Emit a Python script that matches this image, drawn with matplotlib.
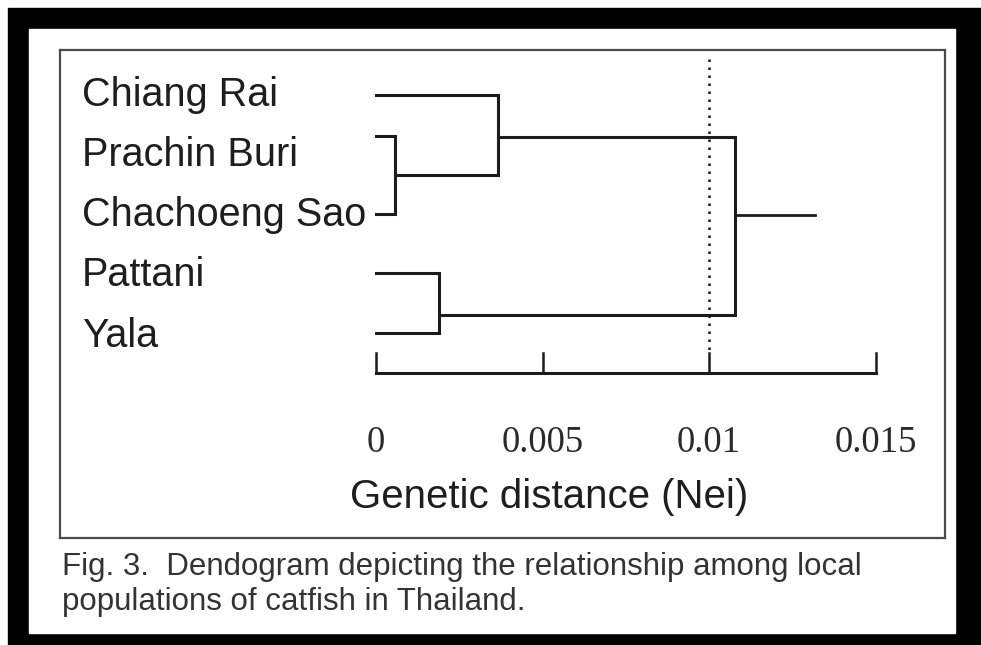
import numpy as np
import matplotlib
matplotlib.use('Agg')
import matplotlib.pyplot as plt
from matplotlib.patches import Rectangle

# ---- data
populations = ['Chiang Rai', 'Prachin Buri', 'Chachoeng Sao', 'Pattani', 'Yala']
label_row = [0, 1, 2, 3, 4]
leaf_y = [0.05, 0.73, 2.02, 3.0, 4.0]          # where each leaf branch is drawn
# merges: child a, child b, Nei distance of the join, height of the outgoing branch
merge_a = [1, 0, 3, 6]
merge_b = [2, 5, 4, 7]
merge_dist = [0.00057, 0.00366, 0.00189, 0.01078]
merge_y = [1.38, 0.75, 3.70, 2.04]
root_end = 0.01318
cut_dist = 0.01
scale_ticks = [0, 0.005, 0.01, 0.015]
scale_labels = ['0', '0.005', '0.01', '0.015']
caption = ['Fig. 3.  Dendogram depicting the relationship among local',
           'populations of catfish in Thailand.']

W, H = 981., 645.
fig = plt.figure(figsize=(W/100, H/100), dpi=100, facecolor='white')

# scanned-page frame
fig.patches.append(Rectangle((8/W, 0), 1, 637/H, transform=fig.transFigure, color='black', zorder=-3))
fig.patches.append(Rectangle((29/W, 12/H), 926/W, 604/H, transform=fig.transFigure, color='white', zorder=-2))

ax = fig.add_axes([60/W, 1-538/H, 885/W, 488/H], zorder=2)
ax.set_xlim(-0.00949, 0.017087)
ax.set_ylim(7.402, -0.697)
ax.set_xticks([]); ax.set_yticks([])
for s in ax.spines.values():
	s.set_color('#4a4a4a'); s.set_linewidth(1.6)

lc = '#1c1c1c'
node_d = [0.]*len(populations)
node_y = list(leaf_y)
for a, b, d, y in zip(merge_a, merge_b, merge_dist, merge_y):
	ax.plot([node_d[a], d, d, node_d[b]], [node_y[a], node_y[a], node_y[b], node_y[b]],
	        color=lc, lw=2.2, solid_joinstyle='miter')
	node_d.append(d); node_y.append(y)
ax.plot([node_d[-1], root_end], [node_y[-1]]*2, color=lc, lw=2.0)

# scale bar
bar_y, tick_top = 4.664, 4.332
ax.plot([scale_ticks[0], scale_ticks[-1]], [bar_y, bar_y], color=lc, lw=2.2)
for t in scale_ticks:
	ax.plot([t, t], [bar_y, tick_top], color=lc, lw=1.8)
ax.plot([cut_dist, cut_dist], [-0.55, tick_top], color=lc, lw=1.8, linestyle=(0, (1, 2.2)))

for name, r in zip(populations, label_row):
	ax.text(-0.00883, r+0.225, name, fontsize=28.5, family='Liberation Sans', color='#1e1e1e',
	        ha='left', va='baseline')
for t, lab in zip(scale_ticks, scale_labels):
	ax.text(t, 5.975, lab, fontsize=26.5, family='Liberation Serif', color='#2a2a2a',
	        ha='center', va='baseline')

fig.text(549/W, 1-508/H, 'Genetic distance (Nei)', fontsize=29, family='Liberation Sans',
         color='#1e1e1e', ha='center', va='baseline')
fig.text(62/W, 1-575/H, caption[0], fontsize=22.5, family='Liberation Sans', color='#333333', va='baseline')
fig.text(62/W, 1-610/H, caption[1], fontsize=22.5, family='Liberation Sans', color='#333333', va='baseline')

plt.savefig('out.png', dpi=100, facecolor='white')
